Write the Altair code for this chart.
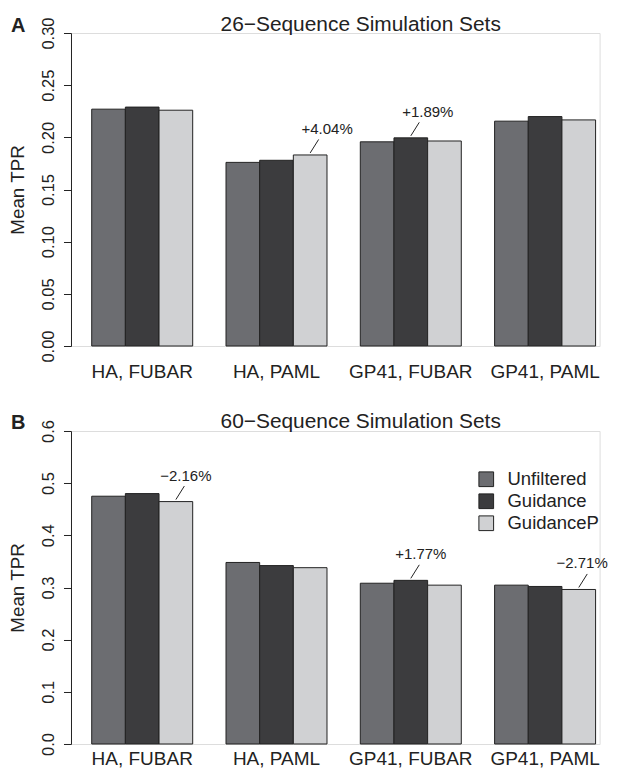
import altair as alt
import pandas as pd

FONT = "Liberation Sans"
INK = "#222222"

categories = ["HA, FUBAR", "HA, PAML", "GP41, FUBAR", "GP41, PAML"]
series = ["Unfiltered", "Guidance", "GuidanceP"]
series_colors = ["#6c6d71", "#3c3c3e", "#d0d1d3"]

# 26-sequence simulation sets (mean TPR)
tpr26_unfiltered = [0.227, 0.176, 0.1957, 0.2155]
tpr26_guidance = [0.229, 0.178, 0.1995, 0.2199]
tpr26_guidanceP = [0.226, 0.1831, 0.1965, 0.2167]

# 60-sequence simulation sets (mean TPR)
tpr60_unfiltered = [0.475, 0.348, 0.3082, 0.3045]
tpr60_guidance = [0.480, 0.342, 0.3137, 0.302]
tpr60_guidanceP = [0.4647, 0.338, 0.3045, 0.2962]

titles = ["26\u2212Sequence Simulation Sets", "60\u2212Sequence Simulation Sets"]
letters = ["A", "B"]

ann26_category = ["HA, PAML", "GP41, FUBAR"]
ann26_series = ["GuidanceP", "Guidance"]
ann26_text = ["+4.04%", "+1.89%"]

ann60_category = ["HA, FUBAR", "GP41, FUBAR", "GP41, PAML"]
ann60_series = ["GuidanceP", "Guidance", "GuidanceP"]
ann60_text = ["\u22122.16%", "+1.77%", "\u22122.71%"]

y26_ticks = [0.0, 0.05, 0.10, 0.15, 0.20, 0.25, 0.30]
y60_ticks = [0.0, 0.1, 0.2, 0.3, 0.4, 0.5, 0.6]

W = 528.6
H = 313
LAST = categories[-1]


def table(u, g, p):
    rows = []
    for i, c in enumerate(categories):
        for s, vals in zip(series, [u, g, p]):
            rows.append({"category": c, "series": s, "value": vals[i]})
    return pd.DataFrame(rows)


def ann_table(bars, cats, sers, texts):
    a = pd.DataFrame({"category": cats, "series": sers, "label": texts})
    return a.merge(bars, on=["category", "series"], how="left")


def panel(bars, ann, title, letter, ymax, ticks, fmt, show_legend, xpad, ann_dx):
    x = alt.X(
        "category:N",
        sort=categories,
        title=None,
        scale=alt.Scale(paddingInner=0.248, paddingOuter=0.092, align=0.838),
        axis=alt.Axis(
            labelAngle=0, domain=False, ticks=False, tickSize=0,
            labelPadding=xpad, labelBaseline="alphabetic", labelFont=FONT,
            labelFontSize=19, labelColor=INK, labelOverlap=False,
        ),
    )
    xo = alt.XOffset("series:N", sort=series)
    y = alt.Y(
        "value:Q",
        scale=alt.Scale(domain=[0, ymax], nice=False, zero=True),
        axis=alt.Axis(
            values=ticks, format=fmt, title="Mean TPR", grid=False,
            domainColor=INK, tickColor=INK, tickSize=7.5,
            labelAngle=-90, labelAlign="center", labelBaseline="alphabetic",
            labelPadding=10, labelFont=FONT, labelFontSize=16.5,
            labelColor=INK, labelOverlap=False, labelFlush=False,
            titleFont=FONT, titleFontSize=18.8, titleFontWeight="normal",
            titleColor=INK, titleAngle=270, titleAlign="center",
            titleBaseline="alphabetic", titleX=-47, titleY=H / 2,
        ),
    )
    if show_legend:
        legend = alt.Legend(
            title=None, orient="none", legendX=406, legendY=39,
            symbolType="square", symbolSize=216, symbolStrokeColor=INK,
            symbolStrokeWidth=1, symbolOpacity=1, labelFont=FONT,
            labelFontSize=18.5, labelColor=INK, labelOffset=12,
            rowPadding=2, padding=0,
        )
    else:
        legend = None
    color = alt.Color(
        "series:N", sort=series,
        scale=alt.Scale(domain=series, range=series_colors),
        legend=legend,
    )
    bar_layer = alt.Chart(bars).mark_bar(stroke=INK, strokeWidth=1, opacity=1).encode(
        x=x, xOffset=xo, y=y, color=color
    )
    leader = alt.Chart(ann).mark_point(
        shape="M0,-0.125L0.53,-0.97", size=1024, filled=False,
        color=INK, strokeWidth=1, opacity=1,
    ).encode(x=x, xOffset=xo, y=y)
    text_style = dict(font=FONT, fontSize=15, color=INK, baseline="alphabetic", dy=-21)
    ann_text = alt.Chart(ann).transform_filter(
        alt.datum.category != LAST
    ).mark_text(dx=ann_dx, align="center", **text_style).encode(
        x=x, xOffset=xo, y=y, text="label:N"
    )
    # labels over the right-most group are kept inside the page edge
    ann_text_edge = alt.Chart(ann).transform_filter(
        alt.datum.category == LAST
    ).mark_text(dx=29, align="right", **text_style).encode(
        x=x, xOffset=xo, y=y, text="label:N"
    )
    title_layer = alt.Chart(pd.DataFrame({"t": [title]})).mark_text(
        font=FONT, fontSize=20.9, color=INK, align="center",
        baseline="alphabetic",
    ).encode(x=alt.value(289.7), y=alt.value(-2.5), text="t:N")
    letter_layer = alt.Chart(pd.DataFrame({"t": [letter]})).mark_text(
        font=FONT, fontSize=20, fontWeight="bold", color=INK,
        align="left", baseline="alphabetic",
    ).encode(x=alt.value(-60), y=alt.value(-1.5), text="t:N")
    return alt.layer(
        bar_layer, leader, ann_text, ann_text_edge, title_layer, letter_layer
    ).properties(width=W, height=H)


bars26 = table(tpr26_unfiltered, tpr26_guidance, tpr26_guidanceP)
bars60 = table(tpr60_unfiltered, tpr60_guidance, tpr60_guidanceP)
ann26 = ann_table(bars26, ann26_category, ann26_series, ann26_text)
ann60 = ann_table(bars60, ann60_category, ann60_series, ann60_text)

top = panel(bars26, ann26, titles[0], letters[0], 0.30, y26_ticks, ".2f", False, 31, 17)
bottom = panel(bars60, ann60, titles[1], letters[1], 0.6, y60_ticks, ".1f", True, 21, 10)

chart = (
    alt.vconcat(top, bottom, spacing=85, bounds="flush")
    .resolve_legend(color="independent")
    .properties(padding={"left": 0, "top": 5, "right": 0, "bottom": 0})
    .configure_view(stroke=None)
    .configure(background="white")
)

chart.save("out.html", embed_options={"renderer": "svg", "actions": False})
